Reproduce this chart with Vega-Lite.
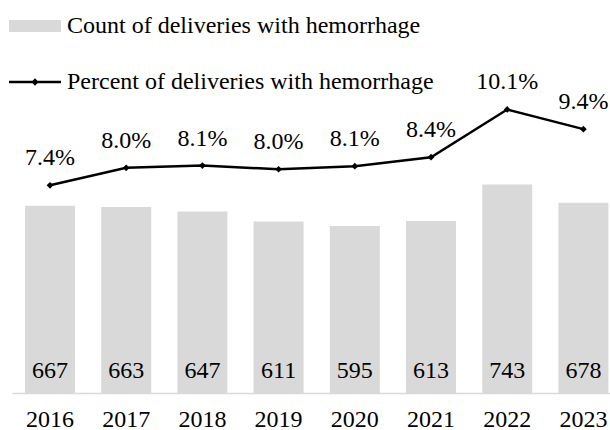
{
  "$schema": "https://vega.github.io/schema/vega-lite/v6.json",
  "width": 598,
  "height": 393,
  "autosize": "none",
  "padding": {"left": 12, "top": 0, "right": 0, "bottom": 37},
  "background": "white",
  "config": {
    "view": {"stroke": null},
    "legend": {"labelFont": "Liberation Serif", "labelFontSize": 24, "labelColor": "black", "padding": 0, "labelLimit": 0}
  },
  "data": {
    "values": [
      {"year": "2016", "count": 667, "pct": 0.074},
      {"year": "2017", "count": 663, "pct": 0.0802},
      {"year": "2018", "count": 647, "pct": 0.081},
      {"year": "2019", "count": 611, "pct": 0.0797},
      {"year": "2020", "count": 595, "pct": 0.0808},
      {"year": "2021", "count": 613, "pct": 0.084},
      {"year": "2022", "count": 743, "pct": 0.101},
      {"year": "2023", "count": 678, "pct": 0.094}
    ]
  },
  "encoding": {
    "x": {
      "field": "year",
      "type": "ordinal",
      "scale": {"paddingInner": 0.344, "paddingOuter": 0.096, "align": 0.89},
      "axis": {
        "title": null,
        "labelAngle": 0,
        "labelFont": "Liberation Serif",
        "labelFontSize": 24,
        "labelColor": "black",
        "labelPadding": 14,
        "ticks": false,
        "domainColor": "#d9d9d9",
        "domainWidth": 1.5
      }
    }
  },
  "layer": [
    {
      "layer": [
        {
          "mark": {"type": "bar"},
          "encoding": {
            "y": {"field": "count", "type": "quantitative", "scale": {"domain": [0, 1365]}, "axis": null},
            "color": {
              "datum": "Count of deliveries with hemorrhage",
              "scale": {"range": ["#d9d9d9"]},
              "legend": {
                "title": null,
                "orient": "none",
                "legendX": -3,
                "legendY": 0,
                "symbolType": "M-1,-0.23H1V0.23H-1Z",
                "symbolSize": 2704,
                "symbolStrokeWidth": 0,
                "labelOffset": 6
              }
            }
          }
        },
        {
          "mark": {"type": "text", "baseline": "alphabetic", "dy": -15, "fontSize": 24, "font": "Liberation Serif", "color": "black"},
          "encoding": {
            "y": {"datum": 0, "type": "quantitative"},
            "text": {"field": "count", "type": "quantitative"}
          }
        }
      ]
    },
    {
      "layer": [
        {
          "mark": {"type": "line", "strokeWidth": 2.5},
          "encoding": {
            "y": {"field": "pct", "type": "quantitative", "scale": {"domain": [0, 0.135]}, "axis": null},
            "stroke": {
              "datum": "Percent of deliveries with hemorrhage",
              "scale": {"range": ["black"]},
              "legend": {
                "title": null,
                "orient": "none",
                "legendX": -3,
                "legendY": 56,
                "symbolType": "M-1,-0.05H1V0.05H-1Z M0,-0.14L0.14,0L0,0.14L-0.14,0Z",
                "symbolSize": 2704,
                "symbolFillColor": "black",
                "symbolStrokeWidth": 0,
                "labelOffset": 6
              }
            }
          }
        },
        {
          "mark": {"type": "point", "shape": "diamond", "filled": true, "size": 45, "color": "black", "opacity": 1},
          "encoding": {
            "y": {"field": "pct", "type": "quantitative"}
          }
        },
        {
          "mark": {"type": "text", "baseline": "alphabetic", "dy": -20, "fontSize": 24, "font": "Liberation Serif", "color": "black"},
          "encoding": {
            "y": {"field": "pct", "type": "quantitative"},
            "text": {"field": "pct", "type": "quantitative", "format": ".1%"}
          }
        }
      ]
    }
  ],
  "resolve": {"scale": {"y": "independent"}}
}
